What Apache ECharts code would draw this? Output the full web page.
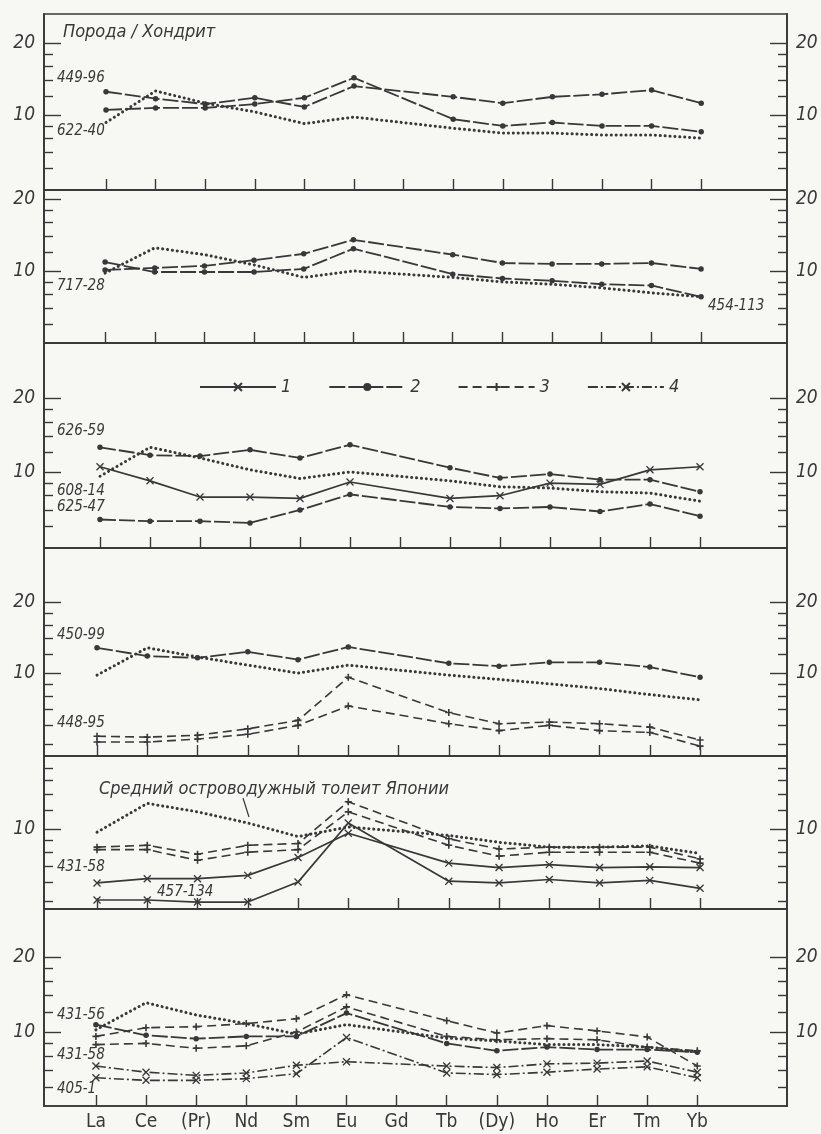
<!DOCTYPE html>
<html><head><meta charset="utf-8">
<script src="https://cdn.jsdelivr.net/npm/echarts@6/dist/echarts.min.js"></script>
<style>html,body{margin:0;padding:0;background:#f7f7f4}#c{width:821px;height:1134px}</style>
</head><body><div id="c"></div>
<script>
// ---------- data ----------
const elements = ['La','Ce','(Pr)','Nd','Sm','Eu','Gd','Tb','(Dy)','Ho','Er','Tm','Yb'];
const yMajorTicks = [10, 20];
const yMinorTicks = [5, 6, 7, 8, 9, 12, 14, 16, 18];

// panel 1
const ref1     = [9.3, 12.6, 11.2, 10.3, 9.2, 9.8, null, 8.8, 8.4, 8.4, 8.25, 8.25, 8.0];
const s449_96  = [12.5, 11.7, 11.1, 11.8, 10.8, 13.2, null, 11.9, 11.2, 11.9, 12.2, 12.7, 11.2];
const s622_40  = [10.5, 10.7, 10.7, 11.1, 11.8, 14.3, null, 9.6, 9.0, 9.3, 9.0, 9.0, 8.5];
// panel 2
const ref2     = [9.8, 12.5, 11.7, 10.6, 9.4, 10.0, null, 9.4, 9.0, 8.8, 8.5, 8.1, 7.8];
const s717_28  = [10.1, 10.3, 10.5, 11.1, 11.8, 13.5, null, 11.7, 10.8, 10.7, 10.7, 10.8, 10.2];
const s454_113 = [10.9, 9.9, 9.9, 9.9, 10.2, 12.4, null, 9.7, 9.3, 9.1, 8.8, 8.7, 7.8];
// panel 3
const ref3     = [9.6, 12.6, 11.4, 10.2, 9.4, 10.0, null, 9.2, 8.7, 8.6, 8.3, 8.2, 7.6];
const s626_59  = [12.6, 11.7, 11.6, 12.3, 11.4, 12.9, null, 10.4, 9.45, 9.8, 9.3, 9.3, 8.3];
const s608_14  = [10.5, 9.2, 7.9, 7.9, 7.8, 9.1, null, 7.8, 8.0, 9.0, 8.9, 10.2, 10.5];
const s625_47  = [6.4, 6.3, 6.3, 6.2, 7.0, 8.1, null, 7.2, 7.1, 7.2, 6.9, 7.4, 6.6];
// panel 4
const ref4     = [9.8, 12.8, 11.7, 10.8, 10.0, 10.8, null, 9.8, 9.4, 9.0, 8.6, 8.1, 7.7];
const s450_99  = [12.8, 11.8, 11.6, 12.3, 11.4, 12.9, null, 11.0, 10.7, 11.1, 11.1, 10.6, 9.6];
const s448_95a = [5.4, 5.35, 5.45, 5.8, 6.3, 9.6, null, 6.8, 6.1, 6.2, 6.1, 5.9, 5.2];
const s448_95b = [5.1, 5.1, 5.25, 5.5, 6.0, 7.25, null, 6.1, 5.7, 6.0, 5.7, 5.6, 4.9];
// panel 5
const ref5     = [9.7, 12.8, 11.8, 10.6, 9.3, 10.2, null, 9.4, 8.8, 8.4, 8.4, 8.5, 7.9];
const s5_dashA = [8.4, 8.55, 7.85, 8.55, 8.7, 13.0, null, 9.1, 8.25, 8.4, 8.4, 8.4, 7.5];
const s5_dashB = [8.2, 8.2, 7.4, 8.0, 8.2, 11.8, null, 8.55, 7.7, 8.0, 8.0, 8.0, 7.2];
const s431_58  = [5.95, 6.2, 6.2, 6.4, 7.6, 9.6, null, 7.2, 6.9, 7.1, 6.9, 6.95, 6.9];
const s457_134 = [5.05, 5.05, 4.95, 4.95, 6.0, 10.6, null, 6.05, 5.95, 6.15, 5.95, 6.1, 5.65];
// panel 6
const ref6     = [10.2, 13.1, 11.7, 10.8, 9.8, 10.7, null, 9.45, 9.2, 8.9, 8.9, 8.7, 8.3];
const s6_dashA = [9.6, 10.4, 10.5, 10.8, 11.3, 14.1, null, 11.1, 9.9, 10.6, 10.1, 9.55, 7.3];
const s431_56  = [10.7, 9.7, 9.4, 9.6, 9.6, 11.9, null, 9.0, 8.4, 8.7, 8.5, 8.5, 8.3];
const s6_dashB = [8.9, 9.0, 8.6, 8.8, 10.0, 12.6, null, 9.6, 9.3, 9.4, 9.3, 8.7, 8.4];
const s6_dd1   = [7.3, 6.9, 6.7, 6.85, 7.35, 7.6, null, 7.3, 7.2, 7.45, 7.5, 7.65, 6.9];
const s405_1   = [6.55, 6.4, 6.4, 6.5, 6.8, 9.5, null, 6.85, 6.75, 6.9, 7.1, 7.25, 6.55];

const legendNames = ['1', '2', '3', '4'];

// ---------- layout / style ----------
const LINE = '#383838';
const FONT = "'DejaVu Sans Condensed','Liberation Sans Narrow','DejaVu Sans',sans-serif";
const GL = 44, GW = 743;
const layout = [
  {top: 14,  height: 176, yMin: 4.86, yMax: 26.4, xMin: -1.25,  xMax: 13.73},
  {top: 190, height: 153, yMin: 5.0,  yMax: 21.8, xMin: -1.23,  xMax: 13.73},
  {top: 343, height: 205, yMin: 4.9,  yMax: 33.5, xMin: -1.12,  xMax: 13.74},
  {top: 548, height: 208, yMin: 4.45, yMax: 33.9, xMin: -1.055, xMax: 13.73},
  {top: 756, height: 153, yMin: 4.63, yMax: 20.2, xMin: -1.055, xMax: 13.73},
  {top: 909, height: 197, yMin: 5.05, yMax: 31.1, xMin: -1.036, xMax: 13.79}
];
const X_PATH = 'path://M0,0L10,10M10,0L0,10';
const PLUS_PATH = 'path://M5,0L5,10M0,5L10,5';
const styles = {
  t1: {lineStyle: {type: 'solid', width: 1.7, color: LINE}, symbol: X_PATH, symbolSize: 7,
       itemStyle: {color: 'rgba(0,0,0,0)', borderColor: LINE, borderWidth: 1.3}},
  t2: {lineStyle: {type: [16, 3], width: 1.8, color: LINE}, symbol: 'circle', symbolSize: 5.5,
       itemStyle: {color: LINE, borderColor: LINE, borderWidth: 0}},
  t3: {lineStyle: {type: [9, 5], width: 1.6, color: LINE}, symbol: PLUS_PATH, symbolSize: 7,
       itemStyle: {color: 'rgba(0,0,0,0)', borderColor: LINE, borderWidth: 1.6}},
  t4: {lineStyle: {type: [10, 3, 2, 3], width: 1.6, color: LINE}, symbol: X_PATH, symbolSize: 7,
       itemStyle: {color: 'rgba(0,0,0,0)', borderColor: LINE, borderWidth: 1.3}},
  ref: {lineStyle: {type: [0.1, 4.8], width: 3, cap: 'round', color: LINE}, symbol: 'none',
       itemStyle: {color: LINE}}
};
const panels = [
  [['Japan IAT', ref1, 'ref'], ['449-96', s449_96, 't2'], ['622-40', s622_40, 't2']],
  [['Japan IAT', ref2, 'ref'], ['717-28', s717_28, 't2'], ['454-113', s454_113, 't2']],
  [['Japan IAT', ref3, 'ref'], ['626-59', s626_59, 't2'], ['608-14', s608_14, 't1'], ['625-47', s625_47, 't2']],
  [['Japan IAT', ref4, 'ref'], ['450-99', s450_99, 't2'], ['448-95 a', s448_95a, 't3'], ['448-95 b', s448_95b, 't3']],
  [['Japan IAT', ref5, 'ref'], ['dash a', s5_dashA, 't3'], ['dash b', s5_dashB, 't3'], ['431-58', s431_58, 't1'], ['457-134', s457_134, 't1']],
  [['Japan IAT', ref6, 'ref'], ['dash a6', s6_dashA, 't3'], ['431-56', s431_56, 't2'], ['dash b6', s6_dashB, 't3'], ['dd 6', s6_dd1, 't4'], ['405-1', s405_1, 't4']]
];

const toPts = vals => vals.map((v, k) => v == null ? null : [k, v]).filter(p => p);
const idx = elements.map((_, k) => k);

const grids = [], xAxes = [], yAxes = [], series = [];
layout.forEach((L, i) => {
  grids.push({left: GL, width: GW, top: L.top, height: L.height, show: true,
    borderColor: LINE, borderWidth: 1.5, backgroundColor: 'transparent', containLabel: false, outerBoundsMode: 'none'});
  xAxes.push({type: 'value', gridIndex: i, min: L.xMin, max: L.xMax, position: 'bottom',
    axisLine: {show: true, onZero: false, lineStyle: {color: LINE, width: 1.5}},
    axisTick: {show: true, inside: true, length: 11, customValues: idx, lineStyle: {color: LINE, width: 1.4}},
    axisLabel: {show: i === 5, customValues: idx, formatter: v => elements[Math.round(v)], margin: 7,
      fontFamily: FONT, fontSize: 19, color: LINE},
    splitLine: {show: false}});
  // data axis (log)
  yAxes.push({type: 'log', logBase: 10, gridIndex: i, min: L.yMin, max: L.yMax, show: false,
    axisLine: {onZero: false}, splitLine: {show: false}});
  const lo = Math.log10(L.yMin), hi = Math.log10(L.yMax);
  const mk = (pos, ticks, len, labels) => {
    const vals = ticks.filter(t => t > L.yMin * 1.05 && t < L.yMax / 1.05).map(t => Math.log10(t));
    return {type: 'value', gridIndex: i, position: pos, min: lo, max: hi,
      axisLine: {show: true, onZero: false, lineStyle: {color: LINE, width: 1.5}},
      axisTick: {show: true, inside: true, length: len, customValues: vals, lineStyle: {color: LINE, width: 1.4}},
      axisLabel: {show: labels, customValues: vals, formatter: v => String(Math.round(Math.pow(10, v))),
        margin: 9, fontFamily: FONT, fontStyle: 'italic', fontSize: 19, color: LINE},
      splitLine: {show: false}, minorTick: {show: false}};
  };
  yAxes.push(mk('left', yMinorTicks, 9, false));
  yAxes.push(mk('left', yMajorTicks, 17, true));
  yAxes.push(mk('right', yMinorTicks, 9, false));
  yAxes.push(mk('right', yMajorTicks, 17, true));
  panels[i].forEach(([name, vals, st]) => {
    series.push(Object.assign({type: 'line', name, xAxisIndex: i, yAxisIndex: 5 * i,
      data: toPts(vals), showSymbol: st !== 'ref', silent: true, z: 3}, JSON.parse(JSON.stringify(styles[st]))));
  });
});
// legend-only series (panel 3)
['t1', 't2', 't3', 't4'].forEach((st, k) => {
  series.push(Object.assign({type: 'line', name: legendNames[k], xAxisIndex: 2, yAxisIndex: 10, data: []},
    JSON.parse(JSON.stringify(styles[st]))));
});

const txt = (text, x, y, size, extra) => Object.assign({type: 'text', x, y, silent: true,
  style: {text, fill: LINE, font: `italic ${size}px ${FONT}`, verticalAlign: 'middle', align: 'left'}}, extra || {});

const graphics = [
  txt('Порода / Хондрит', 63, 32, 18),
  txt('449-96', 57, 78, 15), txt('622-40', 57, 131, 15),
  txt('717-28', 57, 286, 15), txt('454-113', 708, 306, 15),
  txt('626-59', 57, 431, 15), txt('608-14', 57, 491, 15), txt('625-47', 57, 507, 15),
  txt('450-99', 57, 635, 15), txt('448-95', 57, 723, 15),
  txt('Средний островодужный толеит Японии', 99, 789, 18),
  txt('431-58', 57, 867, 15), txt('457-134', 157, 892, 15),
  txt('431-56', 57, 1015, 15), txt('431-58', 57, 1055, 15), txt('405-1', 57, 1089, 15),
  {type: 'line', silent: true, shape: {x1: 243, y1: 798, x2: 249, y2: 817}, style: {stroke: LINE, lineWidth: 1.2}}
];

const chart = echarts.init(document.getElementById('c'), null, {renderer: 'canvas'});
chart.setOption({
  animation: false,
  backgroundColor: '#f7f7f4',
  grid: grids, xAxis: xAxes, yAxis: yAxes, series,
  legend: {data: legendNames, left: 194, top: 373, itemWidth: 76, itemHeight: 10, itemGap: 37,
    selectedMode: false, textStyle: {fontFamily: FONT, fontStyle: 'italic', fontSize: 18, color: LINE}},
  graphic: graphics
});
</script></body></html>
